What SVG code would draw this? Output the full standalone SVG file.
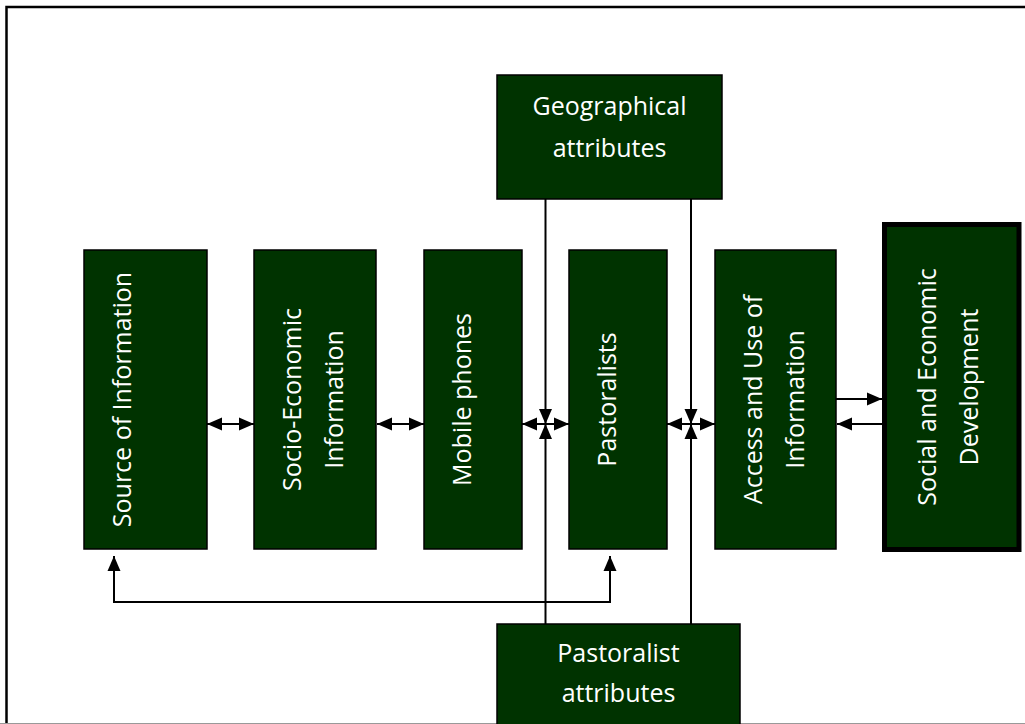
<svg xmlns="http://www.w3.org/2000/svg" width="1025" height="724" viewBox="0 0 1025 724">
  <style>
    .box { fill: #003300; stroke: #000; stroke-width: 1.5; }
    .thick { fill: #003300; stroke: #000; stroke-width: 5; }
    .lbl { fill: #fff; font-family: "Open Sans", "Liberation Sans", sans-serif; font-size: 25px; text-anchor: middle; }
    .con { fill: none; stroke: #000; stroke-width: 2; }
  </style>
  <defs>
    <marker id="ah" markerUnits="userSpaceOnUse" markerWidth="15" markerHeight="14" refX="15" refY="7" orient="auto-start-reverse" viewBox="0 0 15 14">
      <path d="M0,0.5 L15,7 L0,13.5 z" fill="#000"/>
    </marker>
  </defs>
  <rect width="1025" height="724" fill="#fff"/>
  <g id="frame">
    <path d="M6.5,724 V7 H1025" fill="none" stroke="#000" stroke-width="2.5"/>
    <line x1="0" y1="723.5" x2="1025" y2="723.5" stroke="#999" stroke-width="1"/>
  </g>
  <g id="connectors">
    <line class="con" x1="207" y1="424" x2="254" y2="424" marker-start="url(#ah)" marker-end="url(#ah)"/>
    <line class="con" x1="377" y1="424" x2="424" y2="424" marker-start="url(#ah)" marker-end="url(#ah)"/>
    <line class="con" x1="522" y1="424" x2="569" y2="424" marker-start="url(#ah)" marker-end="url(#ah)"/>
    <line class="con" x1="667" y1="424" x2="715" y2="424" marker-start="url(#ah)" marker-end="url(#ah)"/>
    <line class="con" x1="545.5" y1="199" x2="545.5" y2="424" marker-end="url(#ah)"/>
    <line class="con" x1="545.5" y1="624" x2="545.5" y2="424" marker-end="url(#ah)"/>
    <line class="con" x1="691" y1="199" x2="691" y2="424" marker-end="url(#ah)"/>
    <line class="con" x1="691" y1="624" x2="691" y2="424" marker-end="url(#ah)"/>
    <line class="con" x1="836" y1="399" x2="882" y2="399" marker-end="url(#ah)"/>
    <line class="con" x1="882" y1="424" x2="837" y2="424" marker-end="url(#ah)"/>
    <path class="con" d="M114,556 V602 H610 V556" marker-start="url(#ah)" marker-end="url(#ah)"/>
  </g>
  <g id="source">
    <rect class="box" x="84" y="250" width="123" height="299"/>
    <text class="lbl" transform="translate(131,399.5) rotate(-90)">Source of Information</text>
  </g>
  <g id="socio">
    <rect class="box" x="254" y="250" width="122" height="299"/>
    <text class="lbl" transform="translate(301,399.5) rotate(-90)">Socio-Economic</text>
    <text class="lbl" transform="translate(343,399.5) rotate(-90)">Information</text>
  </g>
  <g id="mobile">
    <rect class="box" x="424" y="250" width="98" height="299"/>
    <text class="lbl" transform="translate(471,399.5) rotate(-90)">Mobile phones</text>
  </g>
  <g id="pastoralists">
    <rect class="box" x="569" y="250" width="98" height="299"/>
    <text class="lbl" transform="translate(616,399.5) rotate(-90)">Pastoralists</text>
  </g>
  <g id="access">
    <rect class="box" x="715" y="250" width="121" height="299"/>
    <text class="lbl" transform="translate(762,399.5) rotate(-90)">Access and Use of</text>
    <text class="lbl" transform="translate(804,399.5) rotate(-90)">Information</text>
  </g>
  <g id="social">
    <rect class="thick" x="884.5" y="224.5" width="134.5" height="325"/>
    <text class="lbl" transform="translate(936,387) rotate(-90)">Social and Economic</text>
    <text class="lbl" transform="translate(978,387) rotate(-90)">Development</text>
  </g>
  <g id="geographical">
    <rect class="box" x="497" y="75" width="225" height="124"/>
    <text class="lbl" x="609.5" y="115">Geographical</text>
    <text class="lbl" x="609.5" y="157">attributes</text>
  </g>
  <g id="pastoralist-attributes">
    <rect class="box" x="497" y="624" width="243" height="110"/>
    <text class="lbl" x="618.5" y="662">Pastoralist</text>
    <text class="lbl" x="618.5" y="702">attributes</text>
  </g>
</svg>
